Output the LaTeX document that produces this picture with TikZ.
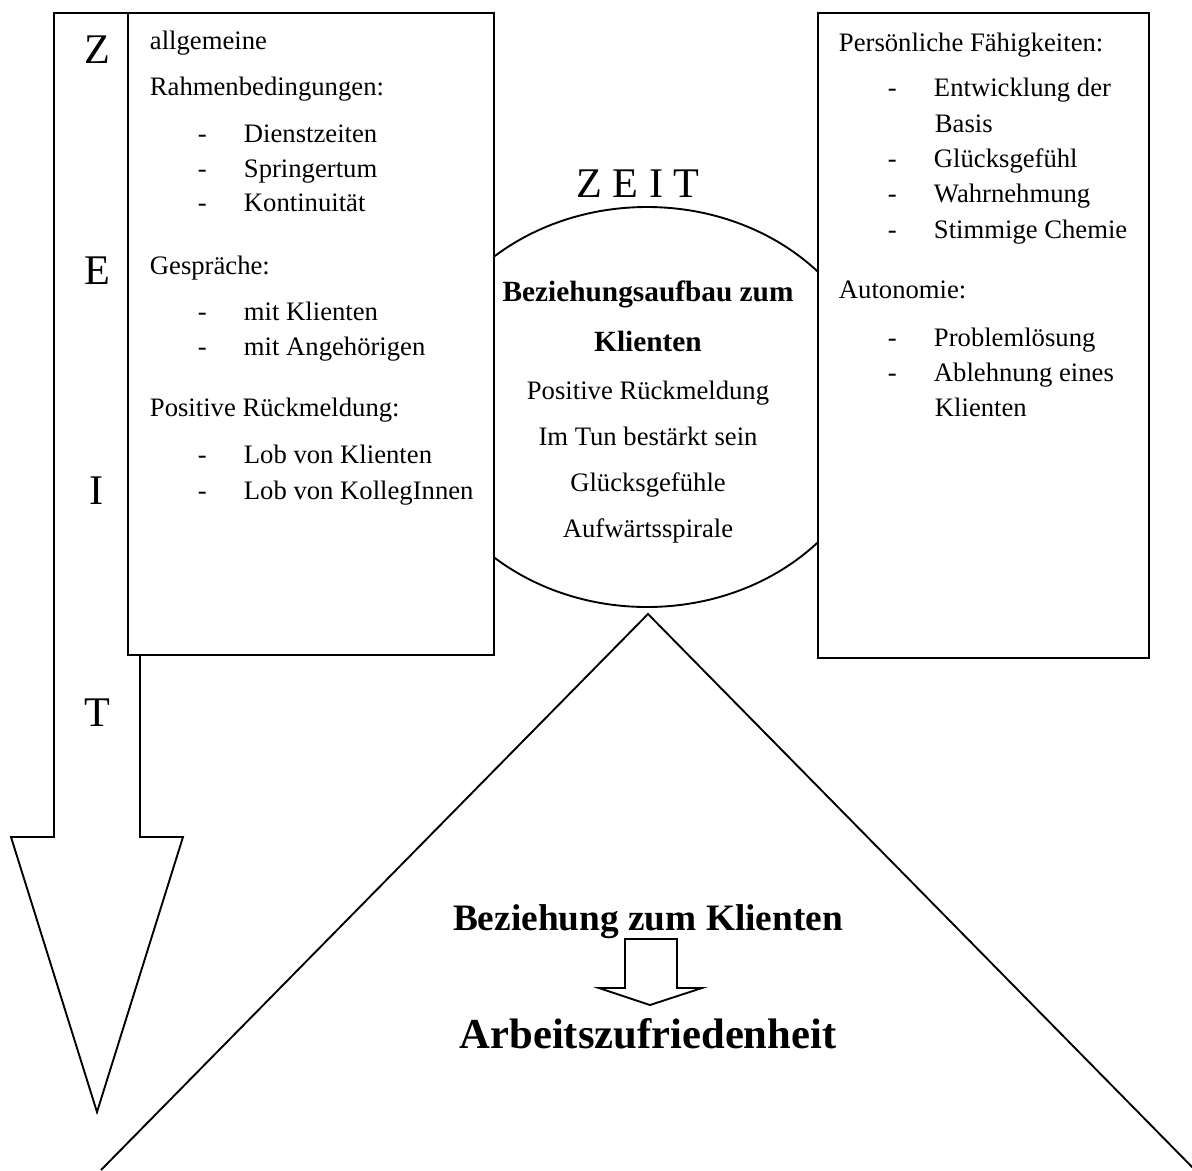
\documentclass[tikz,border=0pt]{standalone}
\usepackage{fontspec}
\setmainfont{Liberation Serif}
\usetikzlibrary{positioning}

\begin{document}
\begin{tikzpicture}[x=0.45pt,y=-0.45pt,line width=0.85pt,
  txt/.style={anchor=base west,inner sep=0pt,font=\fontsize{12}{14}\selectfont},
  mid/.style={anchor=base,inner sep=0pt,font=\fontsize{12}{14}\selectfont},
  bold/.style={mid,font=\fontsize{13.2}{16}\selectfont\bfseries},
  big/.style={anchor=base,inner sep=0pt,font=\fontsize{19}{22}\selectfont}]
  \useasboundingbox (0,0) rectangle (1192,1170);
  \clip (0,0) rectangle (1192,1170);
  \draw (647,407) ellipse [x radius=232, y radius=200];
  \draw[fill=white] (54,13) -- (140,13) -- (140,837) -- (183,837) -- (97,1112) -- (11,837) -- (54,837) -- cycle;
  \draw[fill=white] (128,13) rectangle (494,655);
  \draw[fill=white] (818,13) rectangle (1149,658);
  \draw (101,1170) -- (648,614) -- (1195,1170);
  \draw (625,939) -- (677,939) -- (677,988) -- (702,988) -- (650,1005) -- (599,988) -- (625,988) -- cycle;
  \foreach \y/\l in {63/Z,284/E,504/I,726/T} \node[big] (side\l) at (97,\y) {\l};
  \node[big] (zeit) at (638,197) {Z E I T};
  % linke Box
  \node[txt] (allg) at (149,49) {allgemeine};
  \node[txt] (rahmen) at (149,95) {Rahmenbedingungen:};
  \node[txt] (gespr) at (149,274) {Gespräche:};
  \node[txt] (rueck) at (149,416) {Positive Rückmeldung:};
  \foreach \y/\t in {142/Dienstzeiten,177/Springertum,211/Kontinuität,320/mit Klienten,355/mit Angehörigen,463/Lob von Klienten,499/Lob von KollegInnen} {
    \node[txt] (ld\y) at (197,\y) {-};
    \node[txt] (li\y) at (243,\y) {\t};
  }
  % rechte Box
  \node[txt] (pers) at (838,51) {Persönliche Fähigkeiten:};
  \node[txt] (auto) at (838,298) {Autonomie:};
  \foreach \y/\t in {96/Entwicklung der,167/Glücksgefühl,202/Wahrnehmung,238/Stimmige Chemie,346/Problemlösung,381/Ablehnung eines} {
    \node[txt] (rd\y) at (887,\y) {-};
    \node[txt] (ri\y) at (933,\y) {\t};
  }
  \node[txt] (basis) at (934,132) {Basis};
  \node[txt] (klient) at (934,416) {Klienten};
  % Kreis
  \node[bold] (bez1) at (648,301) {Beziehungsaufbau zum};
  \node[bold] (bez2) at (648,351) {Klienten};
  \foreach \y/\t in {399/Positive Rückmeldung,445/Im Tun bestärkt sein,491/Glücksgefühle,537/Aufwärtsspirale}
    \node[mid] (c\y) at (648,\y) {\t};
  % Dreieck
  \node[mid,font=\fontsize{16.8}{20}\selectfont\bfseries] (bzk) at (648,930) {Beziehung zum Klienten};
  \node[mid,font=\fontsize{19.2}{22}\selectfont\bfseries] (azf) at (648,1048) {Arbeitszufriedenheit};
\end{tikzpicture}
\end{document}
